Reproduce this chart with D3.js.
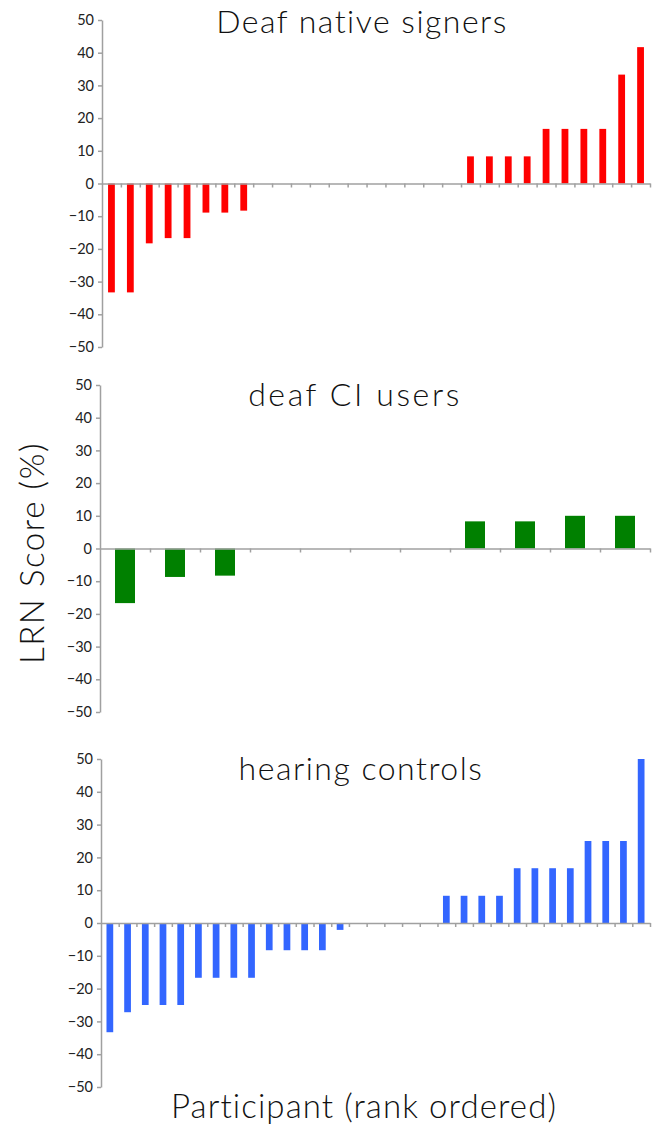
<!DOCTYPE html>
<html>
<head>
<meta charset="utf-8">
<script src="https://cdn.jsdelivr.net/npm/d3@7"></script>
<style>
  body { margin: 0; background: #fff; }
  svg { display: block; }
  .tick text { font-family: Lato, "Open Sans", sans-serif; font-size: 14.5px; fill: #222; }
  .title { font-family: Lato, "Helvetica Neue", sans-serif; font-weight: 300; fill: #111; }
</style>
</head>
<body>
<figure id="chart" style="margin:0"></figure>
<script>
// rank-ordered LRN scores (%) per group
const deafNative = [-33.3, -33.3, -18.3, -16.7, -16.7, -8.9, -8.9, -8.3,
  0, 0, 0, 0, 0, 0, 0, 0, 0, 0, 0,
  8.3, 8.3, 8.3, 8.3, 16.7, 16.7, 16.7, 16.7, 33.3, 41.7];
const deafCI = [-16.7, -8.7, -8.3, 0, 0, 0, 0, 8.3, 8.3, 10, 10];
const hearing = [-33.3, -27.2, -25, -25, -25, -16.7, -16.7, -16.7, -16.7,
  -8.3, -8.3, -8.3, -8.3, -2.1, 0, 0, 0, 0, 0,
  8.3, 8.3, 8.3, 8.3, 16.7, 16.7, 16.7, 16.7, 25, 25, 25, 50];
const titles = ['Deaf native signers', 'deaf CI users', 'hearing controls'];
const colors = ['#ff0000', '#008000', '#3366ff'];
const yTicks = [50, 40, 30, 20, 10, 0, -10, -20, -30, -40, -50];

const W = 659, H = 1128;
const svg = d3.select('#chart').append('svg').attr('width', W).attr('height', H);

// panel boxes: left axis x, right end, top (50) and bottom (-50)
const panels = [
  { data: deafNative, left: 102, right: 650, top: 20, bottom: 347, pad: 0.64, titleY: 33, titleX: 362, ls: 1.5 },
  { data: deafCI, left: 100, right: 650, top: 385, bottom: 712, pad: 0.6, titleY: 406, titleX: 355, ls: 2.6 },
  { data: hearing, left: 101, right: 650, top: 759, bottom: 1087, pad: 0.62, titleY: 780, titleX: 361, ls: 1.5 }
];

panels.forEach((p, k) => {
  const g = svg.append('g');
  const n = p.data.length;

  const y = d3.scaleLinear().domain([-50, 50]).range([p.bottom, p.top]);
  const x = d3.scaleBand()
    .domain(d3.range(n))
    .range([p.left, p.right])
    .paddingInner(p.pad)
    .paddingOuter(p.pad / 2);
  // boundary ticks between participants
  const xb = d3.scaleLinear().domain([0, n]).range([p.left, p.right]);

  // bars
  g.selectAll('rect')
    .data(p.data)
    .enter()
    .append('rect')
    .attr('x', (d, i) => x(i))
    .attr('width', x.bandwidth())
    .attr('y', d => y(Math.max(0, d)))
    .attr('height', d => Math.abs(y(d) - y(0)))
    .attr('fill', colors[k]);

  // y axis
  const ya = g.append('g')
    .attr('transform', 'translate(' + p.left + ',0)')
    .call(d3.axisLeft(y).tickValues(yTicks).tickSize(4).tickSizeOuter(0).tickPadding(4));
  ya.select('.domain').attr('stroke', '#a0a0a0').attr('stroke-width', 1.5);
  ya.selectAll('.tick line').attr('stroke', '#a0a0a0').attr('stroke-width', 1.5);

  // x axis on the zero line
  const xa = g.append('g')
    .attr('transform', 'translate(0,' + y(0) + ')')
    .call(d3.axisBottom(xb).tickValues(d3.range(1, n + 1)).tickSize(4).tickSizeOuter(0).tickFormat(''));
  xa.select('.domain').attr('stroke', '#a0a0a0').attr('stroke-width', 1.5);
  xa.selectAll('.tick line').attr('stroke', '#a0a0a0').attr('stroke-width', 1.5);

  // group title
  g.append('text')
    .attr('class', 'title')
    .attr('x', p.titleX)
    .attr('y', p.titleY)
    .attr('text-anchor', 'middle')
    .style('font-size', '32px')
    .style('letter-spacing', p.ls + 'px')
    .text(titles[k]);
});

// shared axis labels
svg.append('text')
  .attr('class', 'title')
  .attr('transform', 'translate(44,553) rotate(-90)')
  .attr('text-anchor', 'middle')
  .style('font-size', '33px')
  .style('letter-spacing', '1.6px')
  .text('LRN Score (%)');

svg.append('text')
  .attr('class', 'title')
  .attr('x', 364)
  .attr('y', 1118)
  .attr('text-anchor', 'middle')
  .style('font-size', '33px')
  .style('letter-spacing', '1.1px')
  .text('Participant (rank ordered)');
</script>
</body>
</html>
